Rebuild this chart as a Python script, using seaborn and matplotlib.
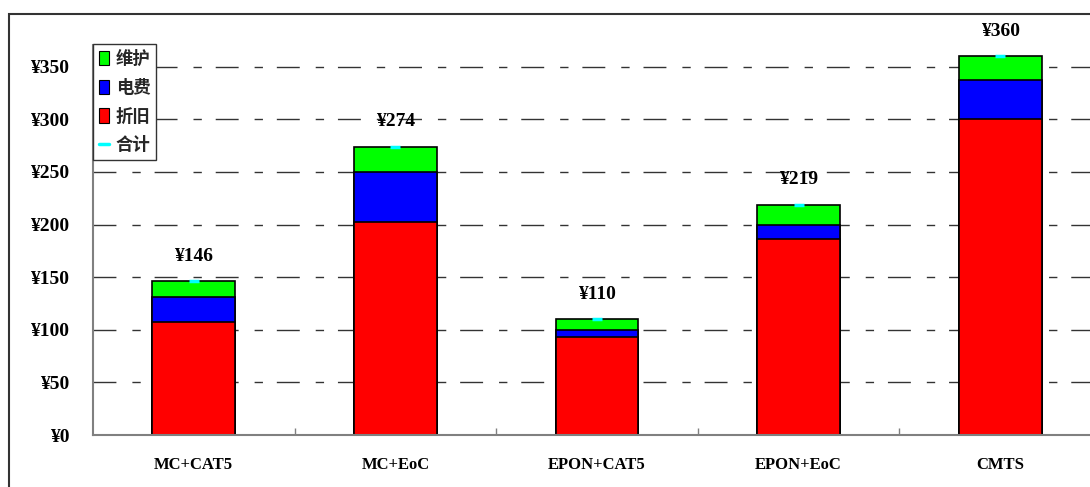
import numpy as np
import pandas as pd
import matplotlib
matplotlib.use("Agg")
import matplotlib.pyplot as plt
import seaborn as sns
from matplotlib.patches import Patch, Rectangle
from matplotlib.lines import Line2D

# ---- data ----
categories = ["MC+CAT5", "MC+EoC", "EPON+CAT5", "EPON+EoC", "CMTS"]
depreciation = [107, 202, 93, 186, 300]   # 折旧
electricity = [24, 48, 7, 14, 37]         # 电费
maintenance = [15, 24, 10, 19, 23]        # 维护
series_names = ["维护", "电费", "折旧", "合计"]
ytick_values = [0, 50, 100, 150, 200, 250, 300, 350]

dep = np.array(depreciation)
ele = np.array(electricity)
mai = np.array(maintenance)
totals = dep + ele + mai

df = pd.DataFrame({
    "cat": categories,
    "red": dep,
    "red_blue": dep + ele,
    "total": totals,
})

sns.set_theme(style="white")
plt.rcParams["font.family"] = ["Liberation Serif", "Noto Sans CJK SC", "DejaVu Sans"]

fig = plt.figure(figsize=(10.9, 4.87), dpi=100)
ax = fig.add_axes([93 / 1090, 52 / 487, 1008 / 1090, 421 / 487])

bar_w = 0.41
sns.barplot(data=df, x="cat", y="total", color="#00FF00", width=bar_w,
            edgecolor="black", linewidth=1.2, saturation=1, ax=ax, zorder=2)
sns.barplot(data=df, x="cat", y="red_blue", color="#0000FF", width=bar_w,
            edgecolor="black", linewidth=1.2, saturation=1, ax=ax, zorder=3)
sns.barplot(data=df, x="cat", y="red", color="#FF0000", width=bar_w,
            edgecolor="black", linewidth=1.2, saturation=1, ax=ax, zorder=4)

pos = np.arange(len(categories))
ax.plot(pos, totals, linestyle="none", marker="_", markersize=7,
        markeredgewidth=2.5, color="#00FFFF", zorder=6)

for i, t in enumerate(totals):
    ax.annotate(f"¥{t}", (i, t), xytext=(0, 18), textcoords="offset points",
                ha="center", va="center", fontsize=14, fontweight="bold",
                color="black")

ax.set_xlim(-0.5, len(categories) - 0.5)
ax.set_ylim(0, 400)
ax.set_yticks(ytick_values)
ax.set_yticklabels([f"¥{v}" for v in ytick_values], fontsize=14, fontweight="bold")
ax.set_xticks(pos)
ax.set_xticklabels(categories, fontsize=12, fontweight="bold")
ax.set_xticks(pos[:-1] + 0.5, minor=True)
ax.set_xlabel("")
ax.set_ylabel("")

ax.tick_params(axis="y", length=0, pad=17, colors="black")
ax.tick_params(axis="x", which="major", length=0, pad=16, colors="black")
ax.tick_params(axis="x", which="minor", direction="in", length=5, width=1,
               color="#808080", bottom=True)

ax.set_axisbelow(True)
ax.yaxis.grid(True, color="#333333", linewidth=1,
              linestyle=(0, (16.5, 11.5, 6, 10)))
ax.xaxis.grid(False)

for s in ["top", "right"]:
    ax.spines[s].set_visible(False)
for s in ["left", "bottom"]:
    ax.spines[s].set_color("#808080")
    ax.spines[s].set_linewidth(1.5)
    ax.spines[s].set_zorder(5)
ax.spines["left"].set_bounds(0, 371)

handles = [
    Patch(facecolor="#00FF00", edgecolor="black", linewidth=0.8),
    Patch(facecolor="#0000FF", edgecolor="black", linewidth=0.8),
    Patch(facecolor="#FF0000", edgecolor="black", linewidth=0.8),
    Line2D([0], [0], color="#00FFFF", linewidth=2.5),
]
leg = ax.legend(handles, series_names, loc="upper left",
                bbox_to_anchor=(0, (435 - 44) / 421), borderaxespad=0,
                frameon=True, fancybox=False, framealpha=1, edgecolor="#333333",
                handlelength=0.6, handleheight=0.9, handletextpad=0.35,
                labelspacing=0.62, borderpad=0.35,
                prop={"family": ["Noto Sans CJK SC", "DejaVu Sans"],
                      "weight": "bold", "size": 12.5})
leg.get_frame().set_linewidth(1)
leg.set_zorder(10)

frame = Rectangle((9 / 1090, -0.1), 1.2, 0.1 + (487 - 14) / 487,
                  transform=fig.transFigure, fill=False, edgecolor="#333333",
                  linewidth=1.5, clip_on=False)
fig.patches.append(frame)

fig.savefig("out.png", dpi=100)
